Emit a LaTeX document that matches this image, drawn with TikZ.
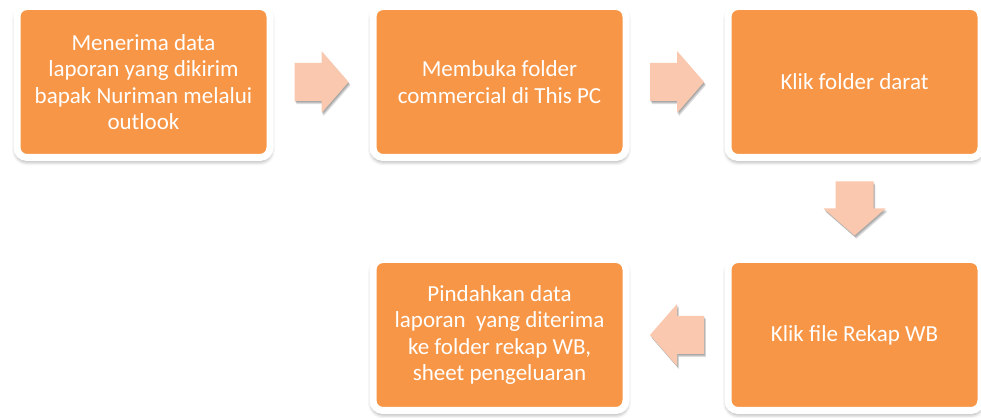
\documentclass[tikz,border=0pt]{standalone}
\usepackage{fontspec}
\setmainfont{Carlito}
\usetikzlibrary{calc,shadows.blur}
\definecolor{boxorange}{HTML}{F79646}
\definecolor{arrowpeach}{HTML}{FAC8AE}
\tikzset{
  stepbox/.style={rectangle, rounded corners=10pt, fill=boxorange, draw=white,
    line width=7pt, minimum width=253pt, minimum height=151pt, inner sep=0pt,
    text=white, align=center, font=\fontsize{23}{26.5}\selectfont,
    blur shadow={shadow xshift=0pt, shadow yshift=-3pt, shadow blur radius=5pt, shadow opacity=55}},
  arrowshade/.style={fill=black, opacity=0.13},
  arrowbody/.style={fill=arrowpeach}
}
% block arrow pointing along the local x axis, centred on the origin
\newcommand\blockarrowpath{(-27,-19) -- (0,-19) -- (0,-31) -- (27,0) -- (0,31) -- (0,19) -- (-27,19) -- cycle}
\newcommand\peacharrow[2]{%
  \begin{scope}[shift={(#1)}]
    \foreach \s in {1.2,2.2,3.2}{%
      \fill[arrowshade, xshift=0.6*\s pt, yshift=-\s pt, rotate=#2] \blockarrowpath;}
    \fill[arrowbody, rotate=#2] \blockarrowpath;
  \end{scope}}
\begin{document}
\begin{tikzpicture}[x=1pt,y=1pt]
  \useasboundingbox (0,0) rectangle (981,417);
  % process steps
  \node[stepbox] (s1) at (143.5,335) {Menerima data\\laporan yang dikirim\\bapak Nuriman melalui\\outlook};
  \node[stepbox] (s2) at (499.5,335) {Membuka folder\\commercial di This PC};
  \node[stepbox] (s3) at (854.5,335) {Klik folder darat};
  \node[stepbox] (s4) at (854.5,82) {Klik file Rekap WB};
  \node[stepbox] (s5) at (499.5,82) {Pindahkan data\\laporan\ \ yang diterima\\ke folder rekap WB,\\sheet pengeluaran};
  % arrows between the steps
  \coordinate (a1) at ($(s1.east)!0.5!(s2.west)$);
  \coordinate (a2) at ($(s2.east)!0.5!(s3.west)$);
  \coordinate (a3) at ($(s3.south)!0.5!(s4.north)$);
  \coordinate (a4) at ($(s4.west)!0.5!(s5.east)$);
  \peacharrow{a1}{0}
  \peacharrow{a2}{0}
  \peacharrow{a3}{-90}
  \peacharrow{a4}{180}
\end{tikzpicture}
\end{document}
